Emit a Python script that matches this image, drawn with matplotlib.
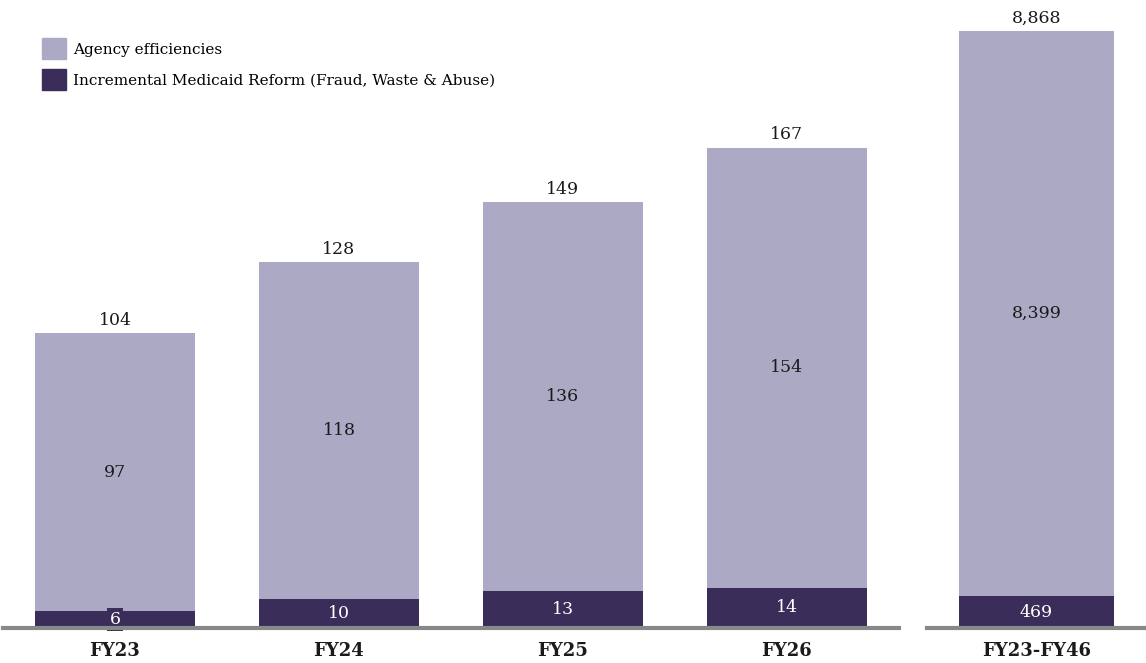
import numpy as np
import matplotlib.pyplot as plt
from matplotlib.patches import Patch

years = ["FY23", "FY24", "FY25", "FY26"]
agency = [97, 118, 136, 154]
medicaid = [6, 10, 13, 14]
totals = [104, 128, 149, 167]

cum_label = ["FY23-FY46"]
cum_agency = [8399]
cum_medicaid = [469]
cum_total = [8868]

light = "#aba9c3"
dark = "#3a2d5a"
base = "#888888"
txt = "#1a1a1a"

plt.rcParams["font.family"] = ["DejaVu Serif"]

fig = plt.figure(figsize=(11.46, 6.63), dpi=100)
W, H = 1146, 663
ax1 = fig.add_axes([3 / W, 35 / H, 896 / W, 628 / H])
ax2 = fig.add_axes([927 / W, 35 / H, 219 / W, 628 / H])


def draw(ax, labels, a, m, t, width, ymax):
    x = np.arange(len(labels))
    b1 = ax.bar(x, m, width, color=dark, zorder=2)
    b2 = ax.bar(x, a, width, bottom=m, color=light, zorder=2)
    ax.bar_label(b1, labels=[f"{v:,}" for v in m], label_type="center",
                 color="white", fontsize=12.5,
                 bbox=dict(boxstyle="square,pad=0.15", fc=dark, ec="none"))
    ax.bar_label(b2, labels=[f"{v:,}" for v in a], label_type="center",
                 color=txt, fontsize=12.5)
    ax.bar_label(b2, labels=[f"{v:,}" for v in t], padding=3,
                 color=txt, fontsize=12.5)
    ax.axhline(0, color=base, lw=3, zorder=3, clip_on=False)
    ax.set_xlim(-0.5, len(labels) - 0.5)
    ax.set_ylim(0, ymax)
    ax.set_xticks(x)
    ax.set_xticklabels(labels, fontweight="bold", fontsize=13, color=txt)
    ax.tick_params(axis="x", length=0, pad=10)
    ax.set_yticks([])
    for s in ax.spines.values():
        s.set_visible(False)


draw(ax1, years, agency, medicaid, totals, 0.714, 219.6)
draw(ax2, cum_label, cum_agency, cum_medicaid, cum_total, 0.71, 9328)

handles = [Patch(color=light, label="Agency efficiencies"),
           Patch(color=dark, label="Incremental Medicaid Reform (Fraud, Waste & Abuse)")]
ax1.legend(handles=handles, loc="upper left", bbox_to_anchor=(42 / W, 1 - 38 / H),
           bbox_transform=fig.transFigure, frameon=False, fontsize=11,
           handlelength=1.57, handleheight=1.76, handletextpad=0.46,
           labelspacing=0.62, borderpad=0, borderaxespad=0)

fig.savefig("out.png", dpi=100)
